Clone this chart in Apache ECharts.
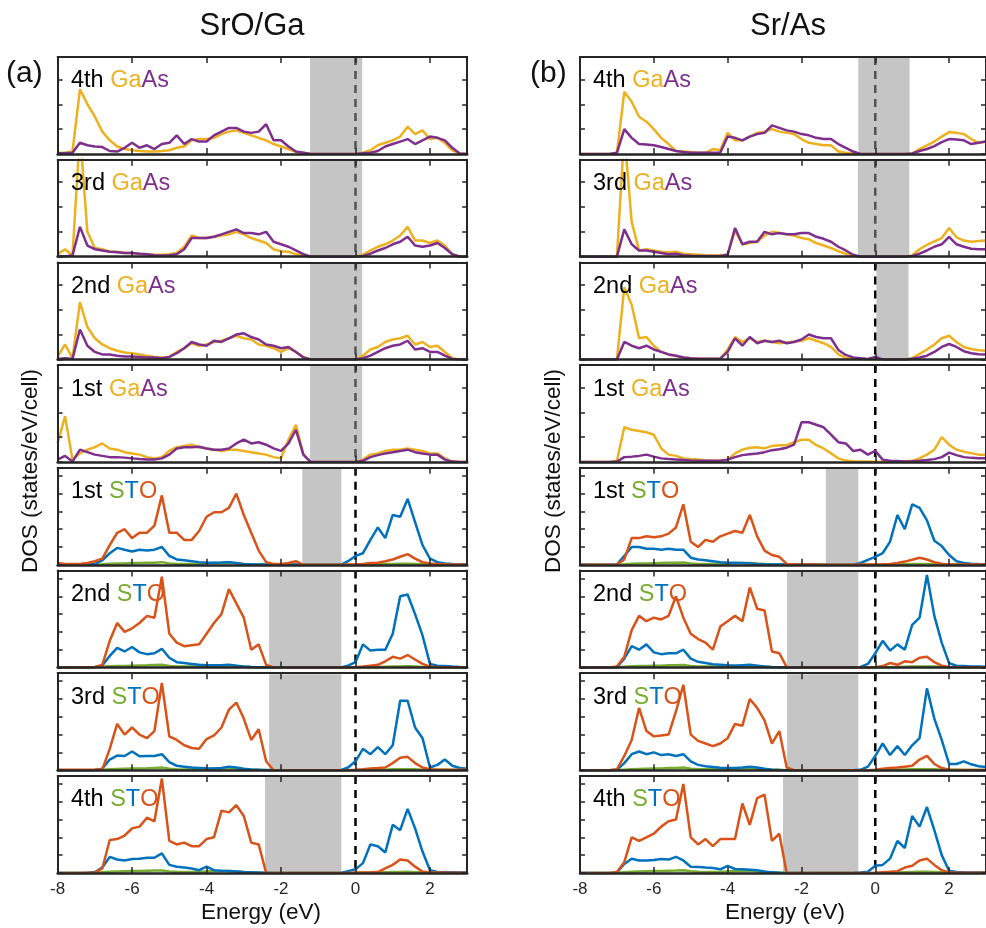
<!DOCTYPE html>
<html>
<head>
<meta charset="utf-8">
<script src="https://cdn.jsdelivr.net/npm/echarts@6/dist/echarts.min.js"></script>
<style>
html, body { margin: 0; padding: 0; background: #fff; }
#chart { width: 986px; height: 928px; }
</style>
</head>
<body>
<div id="chart"></div>
<script>
// energy grid (eV)
const energy = [
  -8, -7.8, -7.6, -7.4, -7.2, -7, -6.8, -6.6, -6.4, -6.2,
  -6, -5.8, -5.6, -5.4, -5.2, -5, -4.8, -4.6, -4.4, -4.2,
  -4, -3.8, -3.6, -3.4, -3.2, -3, -2.8, -2.6, -2.4, -2.2,
  -2, -1.8, -1.6, -1.4, -1.2, -1, -0.8, -0.6, -0.4, -0.2,
  0, 0.2, 0.4, 0.6, 0.8, 1, 1.2, 1.4, 1.6, 1.8,
  2, 2.2, 2.4, 2.6, 2.8, 3
];
const layers = ['4th', '3rd', '2nd', '1st', '1st', '2nd', '3rd', '4th'];

// (a) SrO/Ga : GaAs layers
const aGa4 = [0.05,0.05,0.1,2.6,2.0,1.5,0.9,0.55,0.3,0.2, 0.15,0.12,0.1,0.1,0.12,0.15,0.25,0.3,0.55,0.6, 0.6,0.65,0.8,0.9,0.95,0.85,0.75,0.65,0.55,0.4, 0.3,0.2,0.08,0.05,0,0,0,0,0,0, 0,0.05,0.15,0.35,0.45,0.55,0.7,1.1,0.8,0.95, 0.6,0.65,0.45,0.15,0.02,0];
const aAs4 = [0.03,0.03,0.05,0.45,0.35,0.3,0.28,0.12,0.1,0.25, 0.45,0.25,0.35,0.2,0.4,0.45,0.75,0.4,0.6,0.5, 0.5,0.75,0.9,1.05,1.05,0.9,0.85,0.9,1.2,0.55, 0.55,0.3,0.1,0.05,0,0,0,0,0,0, 0,0.03,0.05,0.12,0.3,0.4,0.5,0.6,0.4,0.55, 0.7,0.65,0.55,0.25,0.02,0];
const aGa3 = [0.1,0.3,0.05,5,1.0,0.35,0.3,0.2,0.2,0.15, 0.15,0.12,0.1,0.08,0.08,0.1,0.15,0.4,0.85,0.75, 0.75,0.8,0.85,0.9,1.0,0.9,0.75,0.65,0.55,0.3, 0.22,0.2,0.1,0.05,0,0,0,0,0,0, 0,0.08,0.25,0.4,0.5,0.65,0.85,1.2,0.65,0.65, 0.55,0.65,0.45,0.1,0,0];
const aAs3 = [0.02,0.02,0.05,1.2,0.45,0.3,0.25,0.2,0.18,0.15, 0.15,0.12,0.1,0.06,0.05,0.06,0.1,0.3,0.75,0.75, 0.75,0.8,0.9,1.0,1.1,0.95,0.95,0.9,1.0,0.6, 0.5,0.4,0.25,0.1,0,0,0,0,0,0, 0,0.03,0.12,0.25,0.35,0.5,0.6,0.8,0.45,0.4, 0.45,0.55,0.35,0.1,0,0];
const aGa2 = [0.1,0.6,0.05,2.3,1.3,0.85,0.6,0.45,0.35,0.28, 0.25,0.2,0.15,0.1,0.08,0.1,0.3,0.45,0.65,0.55, 0.6,0.7,0.75,0.85,0.95,0.85,0.8,0.6,0.55,0.45, 0.3,0.45,0.3,0.1,0,0,0,0,0,0, 0,0.15,0.4,0.5,0.7,0.8,0.85,0.95,0.6,0.7, 0.5,0.55,0.3,0.05,0,0];
const aAs2 = [0.02,0.05,0.02,1.2,0.55,0.3,0.2,0.2,0.15,0.12, 0.12,0.1,0.08,0.08,0.05,0.1,0.25,0.45,0.7,0.6, 0.55,0.75,0.7,0.85,1.0,1.05,0.9,0.8,0.6,0.55, 0.45,0.5,0.3,0.08,0,0,0,0,0,0, 0,0.05,0.15,0.3,0.45,0.55,0.6,0.75,0.4,0.45, 0.3,0.3,0.15,0.02,0,0];
const aGa1 = [0.75,1.85,0.1,0.35,0.5,0.6,0.75,0.55,0.5,0.4, 0.35,0.3,0.2,0.15,0.2,0.45,0.6,0.65,0.7,0.6, 0.55,0.5,0.45,0.5,0.5,0.45,0.4,0.35,0.3,0.2, 0.15,0.9,1.5,0.3,0,0,0,0,0,0, 0,0.1,0.3,0.35,0.45,0.5,0.5,0.55,0.5,0.45, 0.35,0.35,0.15,0.02,0,0];
const aAs1 = [0.1,0.25,0.02,0.5,0.4,0.3,0.25,0.2,0.2,0.18, 0.15,0.12,0.1,0.1,0.15,0.3,0.55,0.6,0.6,0.62, 0.55,0.5,0.5,0.55,0.75,0.9,0.75,0.8,0.7,0.55, 0.45,0.75,1.3,0.3,0,0,0,0,0,0, 0,0.05,0.2,0.28,0.35,0.4,0.45,0.5,0.4,0.35, 0.3,0.3,0.1,0.02,0,0];

// (a) SrO/Ga : STO layers
const aSr1 = [0,0,0,0,0,0.01,0.03,0.06,0.08,0.08, 0.1,0.1,0.12,0.12,0.15,0.08,0.05,0.05,0.05,0.06, 0.08,0.1,0.1,0.12,0.08,0.05,0.03,0.02,0.01,0, 0,0,0,0,0,0,0,0,0,0, 0,0.01,0.02,0.02,0.04,0.05,0.06,0.06,0.05,0.04, 0.02,0.01,0.01,0.01,0.01,0.01];
const aTi1 = [0.02,0.02,0.02,0.02,0.02,0.05,0.25,0.65,0.95,0.85, 0.75,0.85,0.8,0.85,1.0,0.5,0.3,0.25,0.2,0.15, 0.12,0.12,0.13,0.15,0.1,0.05,0.03,0.02,0.01,0.01, 0.01,0.01,0.01,0,0,0,0,0,0,0.2, 0.5,0.65,1.4,2.1,1.5,2.8,2.7,3.7,2.4,1.1, 0.35,0.15,0.08,0.05,0.03,0.02];
const aO1 = [0.1,0.05,0.05,0.05,0.1,0.2,0.35,1.1,1.8,2.0, 1.5,1.8,1.8,2.2,3.9,1.8,1.8,1.4,1.4,1.9, 2.7,2.95,2.95,3.2,4.0,2.8,1.8,0.8,0.15,0.05, 0.05,0.1,0.2,0,0,0,0,0,0,0.02, 0.03,0.05,0.1,0.12,0.2,0.3,0.45,0.6,0.35,0.15, 0.08,0.05,0.03,0.02,0.02,0.02];
const aSr2 = [0,0,0,0,0,0.01,0.04,0.07,0.08,0.09, 0.1,0.11,0.12,0.14,0.16,0.09,0.05,0.05,0.06,0.06, 0.08,0.09,0.11,0.12,0.09,0.05,0.03,0.02,0,0, 0,0,0,0,0,0,0,0,0,0, 0,0.01,0.02,0.03,0.04,0.05,0.06,0.07,0.05,0.03, 0.02,0.01,0.01,0.01,0.01,0.01];
const aTi2 = [0.01,0.01,0.01,0.01,0.01,0.02,0.12,0.65,1.1,0.9, 1.15,0.85,0.75,0.8,1.05,0.55,0.3,0.25,0.2,0.15, 0.12,0.12,0.13,0.15,0.1,0.05,0.03,0.02,0.01,0, 0,0,0,0,0,0,0,0,0,0.1, 0.3,1.3,0.95,1.0,1.0,1.9,4.0,4.1,3.0,1.8, 0.2,0.1,0.08,0.05,0.03,0.02];
const aO2 = [0.02,0.02,0.02,0.02,0.02,0.03,0.15,1.5,2.5,2.0, 2.2,2.5,2.9,2.8,5.1,1.9,1.4,1.2,1.25,1.3, 1.9,2.5,3.0,4.4,3.6,2.8,1.0,1.3,0.15,0, 0,0,0,0,0,0,0,0,0,0, 0.02,0.05,0.1,0.15,0.35,0.6,0.5,0.7,0.45,0.2, 0.05,0.02,0.02,0.02,0.02,0.02];
const aSr3 = [0,0,0,0,0,0.01,0.03,0.06,0.07,0.08, 0.09,0.1,0.11,0.13,0.15,0.08,0.05,0.04,0.05,0.06, 0.07,0.09,0.1,0.12,0.09,0.05,0.03,0.02,0,0, 0,0,0,0,0,0,0,0,0,0, 0,0.01,0.02,0.02,0.03,0.05,0.06,0.06,0.05,0.03, 0.02,0.02,0.02,0.01,0.01,0.01];
const aTi3 = [0,0,0,0,0,0.01,0.08,0.6,0.82,0.8, 1.05,0.78,0.8,0.8,0.9,0.45,0.25,0.2,0.15,0.13, 0.11,0.1,0.12,0.2,0.15,0.08,0.04,0.02,0.01,0, 0,0,0,0,0,0,0,0,0,0.15, 0.5,1.2,0.9,1.3,0.9,1.4,3.9,3.9,2.4,1.8, 0.15,0.3,0.6,0.25,0.12,0.08];
const aO3 = [0.02,0.02,0.02,0.02,0.02,0.03,0.05,1.2,2.6,2.0, 2.4,2.0,1.8,2.2,4.9,1.9,1.7,1.4,1.25,1.2, 1.75,1.95,2.4,3.4,3.8,2.9,1.7,2.3,0.5,0, 0,0,0,0,0,0,0,0,0,0, 0.02,0.05,0.1,0.12,0.15,0.4,0.7,0.75,0.4,0.15, 0.05,0.02,0.02,0.02,0.02,0.02];
const aSr4 = [0,0,0,0,0,0.02,0.04,0.06,0.08,0.09, 0.1,0.11,0.12,0.13,0.14,0.08,0.06,0.05,0.05,0.06, 0.08,0.1,0.1,0.11,0.08,0.05,0.03,0.01,0,0, 0,0,0,0,0,0,0,0,0,0, 0,0.01,0.02,0.02,0.04,0.05,0.05,0.06,0.04,0.03, 0.02,0.01,0.01,0.01,0.01,0.01];
const aTi4 = [0,0,0,0,0,0.05,0.3,0.9,0.75,0.7, 0.78,0.8,0.85,0.85,1.1,0.45,0.35,0.3,0.25,0.15, 0.35,0.15,0.12,0.1,0.08,0.05,0.03,0.02,0.01,0, 0,0,0,0,0,0,0,0,0,0.1, 0.2,0.55,1.6,1.5,1.15,2.7,2.4,3.6,2.5,1.2, 0.15,0.05,0.04,0.03,0.02,0.02];
const aO4 = [0,0,0,0,0.01,0.02,0.25,1.85,1.9,2.1, 2.5,2.6,3.1,2.9,5.3,1.8,1.6,1.7,1.5,1.5, 1.9,2.0,3.5,3.4,3.8,3.2,1.7,1.6,0,0, 0,0,0,0,0,0,0,0,0,0, 0.02,0.02,0.03,0.05,0.25,0.45,0.75,0.7,0.35,0.08, 0.02,0.02,0.01,0.01,0.01,0.01];

// (b) Sr/As : GaAs layers
const bGa4 = [0,0,0,0,0,0.05,2.5,2.1,1.5,1.3, 1.0,0.65,0.4,0.12,0.1,0.08,0.05,0.05,0.2,0.15, 0.85,0.55,0.55,0.7,0.85,0.9,1.0,0.9,0.85,0.8, 0.6,0.45,0.4,0.35,0.35,0.1,0.05,0.02,0,0, 0,0,0,0,0,0.02,0.2,0.35,0.5,0.7, 0.88,0.85,0.8,0.6,0.45,0.5];
const bAs4 = [0,0,0,0,0,0.05,1.0,0.65,0.4,0.38, 0.35,0.28,0.2,0.12,0.08,0.05,0.05,0.05,0.05,0.05, 0.7,0.65,0.55,0.7,0.8,0.85,1.15,1.05,0.95,0.9, 0.8,0.75,0.65,0.6,0.6,0.4,0.25,0.1,0,0, 0,0,0,0,0,0.02,0.12,0.2,0.32,0.48, 0.6,0.58,0.55,0.4,0.45,0.5];
const bGa3 = [0,0,0,0,0,0,5,1.4,0.25,0.3, 0.25,0.2,0.18,0.2,0.12,0.1,0.08,0.06,0.05,0.05, 0.1,1.05,0.5,0.55,0.6,0.85,1.0,0.95,0.9,0.85, 0.75,0.7,0.55,0.45,0.35,0.22,0.12,0.03,0,0, 0,0,0,0,0,0.05,0.3,0.48,0.62,0.75, 1.15,0.78,0.65,0.6,0.63,0.65];
const bAs3 = [0,0,0,0,0,0,1.1,0.5,0.25,0.25, 0.2,0.15,0.1,0.12,0.06,0.04,0.03,0.03,0.03,0.03, 0.08,1.15,0.5,0.6,0.6,1.0,0.9,0.95,0.9,0.9, 0.95,0.95,0.8,0.72,0.6,0.4,0.25,0.08,0,0, 0,0,0,0,0,0.03,0.12,0.25,0.4,0.5, 0.8,0.5,0.4,0.32,0.3,0.3];
const bGa2 = [0,0,0,0,0,0,2.9,2.2,0.85,0.9, 0.55,0.3,0.2,0.15,0.08,0.05,0.03,0.03,0.03,0.03, 0.4,0.9,0.7,0.85,0.7,0.75,0.7,0.65,0.68,0.72, 0.75,0.85,0.75,0.65,0.5,0.2,0.06,0.03,0.02,0.01, 0.01,0,0,0,0,0.05,0.22,0.4,0.6,0.85, 0.95,0.7,0.5,0.42,0.37,0.35];
const bAs2 = [0,0,0,0,0,0,0.7,0.55,0.45,0.55, 0.4,0.3,0.2,0.15,0.08,0.05,0.03,0.03,0.03,0.03, 0.3,0.85,0.55,0.9,0.65,0.75,0.7,0.75,0.65,0.7, 0.8,1.0,0.9,0.85,0.85,0.38,0.18,0.08,0.05,0.02, 0.1,0,0,0,0,0.03,0.08,0.15,0.3,0.5, 0.62,0.5,0.33,0.25,0.21,0.2];
const bGa1 = [0,0,0,0,0,0.05,1.4,1.3,1.25,1.2, 1.1,0.55,0.3,0.25,0.15,0.12,0.1,0.06,0.05,0.05, 0.1,0.35,0.5,0.58,0.6,0.55,0.65,0.68,0.68,0.8, 0.9,0.9,0.68,0.55,0.35,0.15,0.06,0.03,0.02,0.02, 0.01,0.01,0.02,0.02,0.03,0.05,0.15,0.3,0.5,1.0, 0.7,0.5,0.42,0.36,0.3,0.3];
const bAs1 = [0,0,0,0,0,0.02,0.2,0.22,0.25,0.3, 0.22,0.15,0.12,0.1,0.08,0.06,0.05,0.05,0.05,0.05, 0.1,0.2,0.28,0.32,0.35,0.4,0.48,0.52,0.58,0.7, 1.6,1.6,1.5,1.4,1.1,0.8,0.75,0.45,0.5,0.3, 0.45,0.1,0.05,0.04,0.02,0.03,0.05,0.08,0.12,0.2, 0.38,0.28,0.2,0.17,0.15,0.15];

// (b) Sr/As : STO layers
const bSr1 = [0,0,0,0,0,0.01,0.03,0.06,0.08,0.08, 0.09,0.1,0.11,0.12,0.13,0.08,0.05,0.05,0.05,0.05, 0.07,0.09,0.1,0.1,0.07,0.05,0.03,0.02,0.01,0.01, 0,0,0,0,0,0,0,0,0,0, 0,0.01,0.02,0.02,0.03,0.04,0.05,0.05,0.04,0.03, 0.02,0.01,0.01,0.01,0.01,0.01];
const bTi1 = [0,0,0,0,0,0.02,0.5,1.0,1.0,0.9, 0.9,0.85,0.9,0.85,0.85,0.4,0.3,0.25,0.2,0.15, 0.12,0.12,0.1,0.08,0.05,0.03,0.02,0.01,0.01,0.01, 0.01,0.01,0.01,0,0,0,0,0,0.1,0.28, 0.45,0.65,1.3,2.8,2.0,3.4,3.2,2.5,1.35,1.05, 0.55,0.2,0.1,0.06,0.04,0.03];
const bO1 = [0,0,0,0,0,0.02,0.3,1.5,1.5,1.6, 1.55,1.6,1.75,2.1,3.4,1.3,1.0,1.4,1.3,1.6, 1.75,1.9,1.8,2.8,1.6,0.8,0.55,0.45,0.05,0.02, 0.01,0.01,0.01,0,0,0,0,0,0.01,0.01, 0.02,0.03,0.05,0.1,0.18,0.28,0.4,0.3,0.15,0.06, 0.02,0.01,0.01,0.01,0.01,0.01];
const bSr2 = [0,0,0,0,0,0.01,0.04,0.07,0.08,0.09, 0.1,0.1,0.12,0.13,0.14,0.09,0.06,0.05,0.05,0.06, 0.08,0.1,0.1,0.11,0.08,0.05,0.03,0.02,0,0, 0,0,0,0,0,0,0,0,0,0, 0,0.01,0.02,0.03,0.04,0.05,0.06,0.06,0.05,0.03, 0.02,0.01,0.01,0.01,0.01,0.01];
const bTi2 = [0,0,0,0,0,0.02,0.5,1.2,1.0,1.3, 0.85,0.75,0.8,0.8,1.0,0.5,0.32,0.25,0.18,0.15, 0.12,0.1,0.13,0.15,0.1,0.05,0.02,0.01,0,0, 0,0,0,0,0,0,0,0,0.03,0.2, 0.8,1.5,0.95,1.3,1.0,2.4,2.8,5.2,2.9,1.4, 0.25,0.1,0.08,0.05,0.05,0.04];
const bO2 = [0,0,0,0,0,0.05,0.6,2.1,2.9,2.6, 2.8,2.7,2.9,4.0,2.8,1.9,1.6,1.4,1.0,2.3, 2.6,2.9,2.6,4.5,3.3,3.2,0.9,0.8,0.02,0, 0,0,0,0,0,0,0,0,0,0, 0.02,0.08,0.25,0.15,0.35,0.3,0.55,0.6,0.3,0.1, 0.03,0.01,0.01,0.01,0.01,0.01];
const bSr3 = [0,0,0,0,0,0.01,0.03,0.05,0.07,0.08, 0.09,0.1,0.12,0.12,0.15,0.08,0.05,0.05,0.05,0.06, 0.08,0.09,0.1,0.12,0.08,0.05,0.03,0.02,0,0, 0,0,0,0,0,0,0,0,0,0, 0,0.01,0.02,0.02,0.04,0.05,0.06,0.06,0.05,0.03, 0.02,0.02,0.01,0.01,0.01,0.01];
const bTi3 = [0,0,0,0,0,0.02,0.4,0.9,1.05,0.9, 1.0,0.85,0.9,0.8,0.9,0.5,0.3,0.22,0.18,0.14, 0.12,0.12,0.15,0.2,0.15,0.08,0.03,0.01,0,0, 0,0,0,0,0,0,0,0,0.02,0.2, 0.8,1.5,0.85,1.35,0.85,1.4,1.8,4.6,2.9,1.7, 0.35,0.35,0.5,0.33,0.22,0.18];
const bO3 = [0,0,0,0,0,0.05,0.8,1.7,3.5,2.2, 1.9,1.95,2.0,3.3,4.8,2.0,1.65,1.5,1.35,1.5, 1.8,2.6,2.5,4.0,3.5,2.8,1.5,2.2,0.15,0, 0,0,0,0,0,0,0,0,0,0, 0.02,0.08,0.12,0.15,0.2,0.25,0.6,0.8,0.35,0.12, 0.03,0.01,0.01,0.01,0.01,0.01];
const bSr4 = [0,0,0,0,0,0.01,0.04,0.06,0.08,0.09, 0.1,0.11,0.12,0.13,0.15,0.09,0.06,0.05,0.05,0.06, 0.08,0.1,0.11,0.12,0.08,0.05,0.03,0.02,0,0, 0,0,0,0,0,0,0,0,0,0, 0,0.01,0.02,0.02,0.04,0.05,0.06,0.06,0.05,0.03, 0.02,0.01,0.01,0.01,0.01,0.01];
const bTi4 = [0,0,0,0,0,0.02,0.5,0.8,0.7,0.7, 0.72,0.78,0.75,0.9,0.7,0.35,0.33,0.3,0.28,0.2, 0.4,0.22,0.2,0.18,0.15,0.08,0.03,0.01,0,0, 0,0,0,0,0,0,0,0,0.02,0.06, 0.4,0.45,0.8,1.8,1.4,3.2,2.6,3.7,2.4,1.0, 0.12,0.05,0.03,0.02,0.02,0.02];
const bO4 = [0,0,0,0,0,0.05,0.6,2.0,1.8,2.0, 2.2,2.6,2.9,3.0,5.0,2.0,1.6,1.9,1.5,1.9, 1.9,1.9,3.9,2.7,4.2,4.4,1.8,2.2,0,0, 0,0,0,0,0,0,0,0,0,0, 0.01,0.04,0.06,0.1,0.3,0.4,0.7,0.8,0.45,0.15, 0.03,0.01,0.01,0.01,0.01,0.01];

// band gaps drawn as grey boxes [from, to] (eV), top panel first
const gapsA = [[-1.22, 0.18], [-1.22, 0.18], [-1.22, 0.18], [-1.22, 0.18], [-1.43, -0.38], [-2.32, -0.38], [-2.32, -0.38], [-2.43, -0.38]];
const gapsB = [[-0.46, 0.93], [-0.47, 0.92], [0.03, 0.9], null, [-1.34, -0.46], [-2.39, -0.46], [-2.39, -0.46], [-2.5, -0.46]];

const curvesA = [[aGa4, aAs4], [aGa3, aAs3], [aGa2, aAs2], [aGa1, aAs1], [aSr1, aTi1, aO1], [aSr2, aTi2, aO2], [aSr3, aTi3, aO3], [aSr4, aTi4, aO4]];
const curvesB = [[bGa4, bAs4], [bGa3, bAs3], [bGa2, bAs2], [bGa1, bAs1], [bSr1, bTi1, bO1], [bSr2, bTi2, bO2], [bSr3, bTi3, bO3], [bSr4, bTi4, bO4]];

const GA = '#EDB120', AS = '#7E2F8E', SR = '#77AC30', TI = '#0072BD', OX = '#D95319';
const FONT = '"Liberation Sans", Arial, Helvetica, sans-serif';
const FRAME = '#262626';
const PANEL_TOP = [57, 159.7, 262.4, 365.1, 467.8, 570.5, 673.2, 775.9];
const PANEL_H = 97;
const columns = [
    {left: 57.6, width: 409.6, curves: curvesA, gaps: gapsA, labelX: 71, title: 'SrO/Ga', titleX: 252, tag: '(a)', tagX: 6, dosX: 31, energyX: 261},
    {left: 580, width: 409.75, curves: curvesB, gaps: gapsB, labelX: 593, title: 'Sr/As', titleX: 788, tag: '(b)', tagX: 530, dosX: 554, energyX: 785}
];

const chart = echarts.init(document.getElementById('chart'));
const grid = [], xAxis = [], yAxis = [], series = [], graphic = [];

function pairs(vals) {
    return energy.map((e, i) => [e, vals[i]]);
}

function zeroLine(params, api) {
    const cs = params.coordSys;
    const x = api.coord([api.value(0), 0])[0];
    return {
        type: 'line',
        shape: {x1: x, y1: cs.y, x2: x, y2: cs.y + cs.height},
        style: {stroke: '#000', lineWidth: 2.5, lineDash: [8, 6]}
    };
}

function gapBox(params, api) {
    const cs = params.coordSys;
    const x0 = api.coord([api.value(0), 0])[0];
    const x1 = api.coord([api.value(1), 0])[0];
    return {
        type: 'rect',
        shape: {x: x0, y: cs.y + 1, width: x1 - x0, height: cs.height - 2},
        style: {fill: 'rgba(150,150,150,0.55)'}
    };
}

columns.forEach((col) => {
    col.curves.forEach((curves, p) => {
        const k = grid.length;
        const sto = p >= 4;
        const ymax = sto ? 5.45 : 3.9;
        const last = p === 7;
        grid.push({left: col.left, top: PANEL_TOP[p], width: col.width, height: PANEL_H});

        const tick = {show: true, inside: true, length: 6, lineStyle: {color: FRAME, width: 1.5}};
        const line = (w) => ({show: true, onZero: false, lineStyle: {color: FRAME, width: w}});
        xAxis.push({
            type: 'value', gridIndex: k, min: -8, max: 3, interval: 2, position: 'bottom', z: 4,
            axisLine: line(2.5), axisTick: tick, splitLine: {show: false},
            axisLabel: last ? {show: true, fontSize: 17, color: FRAME, fontFamily: FONT, margin: 8, showMaxLabel: false} : {show: false}
        });
        xAxis.push({
            type: 'value', gridIndex: k, min: -8, max: 3, interval: 2, position: 'top', z: 4,
            axisLine: line(2), axisTick: tick, splitLine: {show: false}, axisLabel: {show: false}
        });
        yAxis.push({
            type: 'value', gridIndex: k, min: 0, max: ymax, interval: 1, position: 'left', z: 4,
            axisLine: line(2), axisTick: {show: true, inside: true, length: 5, lineStyle: {color: FRAME, width: 1.5}},
            splitLine: {show: false}, axisLabel: {show: false}
        });
        yAxis.push({
            type: 'value', gridIndex: k, min: 0, max: ymax, interval: 1, position: 'right', z: 4,
            axisLine: line(2), axisTick: {show: true, inside: true, length: 5, lineStyle: {color: FRAME, width: 1.5}},
            splitLine: {show: false}, axisLabel: {show: false}
        });

        const xi = 2 * k, yi = 2 * k;
        series.push({type: 'custom', xAxisIndex: xi, yAxisIndex: yi, z: 1, silent: true,
            data: [[0, 0]], encode: {x: 0, y: 1}, renderItem: zeroLine});
        if (col.gaps[p]) {
            series.push({type: 'custom', xAxisIndex: xi, yAxisIndex: yi, z: 2, silent: true,
                data: [[col.gaps[p][0], col.gaps[p][1], 0]], encode: {x: [0, 1], y: 2}, renderItem: gapBox});
        }
        const colors = sto ? [SR, TI, OX] : [GA, AS];
        curves.forEach((vals, j) => {
            series.push({
                type: 'line', xAxisIndex: xi, yAxisIndex: yi, z: 3, silent: true,
                data: pairs(vals), showSymbol: false, symbol: 'none',
                lineStyle: {color: colors[j], width: 2.5}, itemStyle: {color: colors[j]}
            });
        });

        const text = sto ? '{k|' + layers[p] + ' }{s|S}{t|T}{o|O}' : '{k|' + layers[p] + ' }{g|Ga}{a|As}';
        const rs = (c) => ({fill: c, color: c, fontSize: 23.5, fontFamily: FONT});
        graphic.push({
            type: 'text', x: col.labelX, y: PANEL_TOP[p] + 24, z: 10, silent: true,
            style: {
                text: text, fontSize: 23.5, fontFamily: FONT, fill: '#000',
                verticalAlign: 'middle', textVerticalAlign: 'middle',
                rich: {k: rs('#000'), g: rs(GA), a: rs(AS), s: rs(SR), t: rs(TI), o: rs(OX)}
            }
        });
    });

    const plain = (txt, x, y, size, align, extra) => Object.assign({
        type: 'text', x: x, y: y, z: 10, silent: true,
        style: {text: txt, fontSize: size, fontFamily: FONT, fill: '#111',
            align: align, textAlign: align, verticalAlign: 'middle', textVerticalAlign: 'middle'}
    }, extra || {});
    graphic.push(plain(col.title, col.titleX, 26, 31, 'center'));
    graphic.push(plain(col.tag, col.tagX, 74, 30, 'left'));
    graphic.push(plain('Energy (eV)', col.energyX, 913, 22.5, 'center'));
    graphic.push(plain('DOS (states/eV/cell)', col.dosX, 471, 22.5, 'center', {rotation: Math.PI / 2}));
});

chart.setOption({
    backgroundColor: '#ffffff',
    animation: false,
    grid: grid,
    xAxis: xAxis,
    yAxis: yAxis,
    series: series,
    graphic: graphic
});
</script>
</body>
</html>
